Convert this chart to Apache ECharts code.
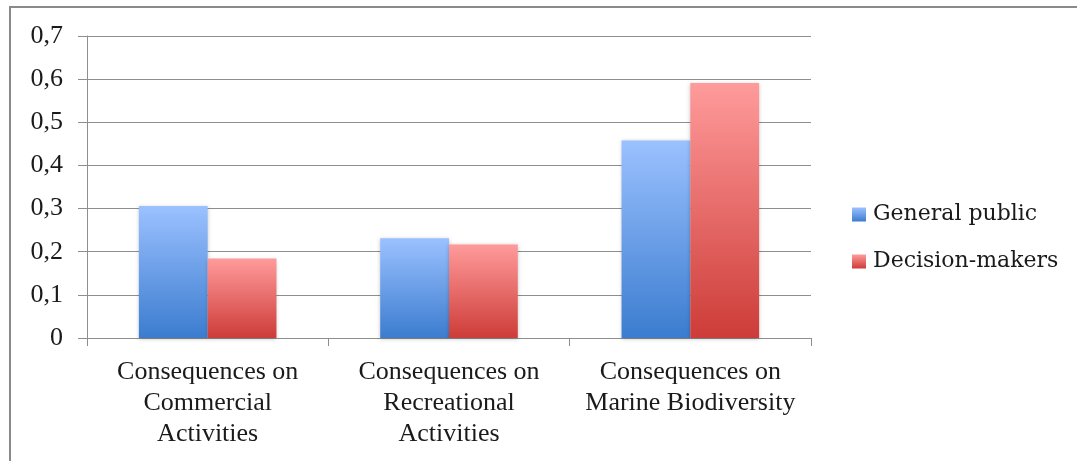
<!DOCTYPE html>
<html>
<head>
<meta charset="utf-8">
<script src="https://cdn.jsdelivr.net/npm/echarts@6/dist/echarts.min.js"></script>
<style>
  html, body { margin: 0; padding: 0; background: #ffffff; }
  #chart { width: 1077px; height: 461px; }
</style>
</head>
<body>
<div id="chart"></div>
<script>
// Categories along the x axis
const categories = [
  'Consequences on\nCommercial\nActivities',
  'Consequences on\nRecreational\nActivities',
  'Consequences on\nMarine Biodiversity'
];

// Share of respondents per group
const generalPublic = [0.306, 0.231, 0.458];
const decisionMakers = [0.184, 0.217, 0.591];

const seriesNames = ['General public', 'Decision-makers'];

// Y axis range
const yMin = 0;
const yMax = 0.7;
const yStep = 0.1;

const serif = '"Liberation Serif", "Times New Roman", serif';
const gridColor = '#8e8e8e';

function vGradient(top, bottom) {
  return new echarts.graphic.LinearGradient(0, 0, 0, 1, [
    { offset: 0, color: top },
    { offset: 1, color: bottom }
  ]);
}

const chart = echarts.init(document.getElementById('chart'), null, { renderer: 'canvas' });

chart.setOption({
  animation: false,
  backgroundColor: '#ffffff',
  grid: { left: 87, right: 266, top: 36, bottom: 123, containLabel: false },
  legend: {
    orient: 'vertical',
    left: 852,
    top: 201,
    padding: 0,
    itemWidth: 14,
    itemHeight: 14,
    itemGap: 20,
    icon: 'rect',
    textStyle: { fontFamily: '"DejaVu Serif", serif', fontSize: 22, color: '#1a1a1a', lineHeight: 27, padding: [0, 0, 0, 2] },
    data: seriesNames
  },
  xAxis: {
    type: 'category',
    data: categories,
    axisLine: { lineStyle: { color: gridColor, width: 1 } },
    axisTick: { show: true, length: 8, lineStyle: { color: gridColor } },
    axisLabel: {
      fontFamily: serif,
      fontSize: 26,
      color: '#1a1a1a',
      lineHeight: 31,
      margin: 19,
      interval: 0
    }
  },
  yAxis: {
    type: 'value',
    min: yMin,
    max: yMax,
    interval: yStep,
    axisLine: { show: true, lineStyle: { color: gridColor, width: 1 } },
    axisTick: { show: true, length: 9, lineStyle: { color: gridColor } },
    splitLine: { lineStyle: { color: gridColor, width: 1 } },
    axisLabel: {
      fontFamily: serif,
      fontSize: 26,
      color: '#1a1a1a',
      margin: 24,
      formatter: v => (v === 0 ? '0' : v.toFixed(1).replace('.', ','))
    }
  },
  series: [
    {
      name: seriesNames[0],
      type: 'bar',
      data: generalPublic,
      barGap: '0%',
      barCategoryGap: '43%',
      itemStyle: {
        color: vGradient('#9bc1ff', '#3b7ccf'),
        shadowBlur: 4,
        shadowColor: 'rgba(0,0,0,0.22)',
        shadowOffsetY: 1
      }
    },
    {
      name: seriesNames[1],
      type: 'bar',
      data: decisionMakers,
      barGap: '0%',
      barCategoryGap: '43%',
      itemStyle: {
        color: vGradient('#ff9b9b', '#cd3c38'),
        shadowBlur: 4,
        shadowColor: 'rgba(0,0,0,0.22)',
        shadowOffsetY: 1
      }
    }
  ],
  graphic: [
    {
      type: 'line',
      silent: true,
      shape: { x1: 9, y1: 7, x2: 1077, y2: 7 },
      style: { stroke: '#8a8a8a', lineWidth: 2 }
    },
    {
      type: 'line',
      silent: true,
      shape: { x1: 10, y1: 6, x2: 10, y2: 461 },
      style: { stroke: '#8a8a8a', lineWidth: 2 }
    }
  ]
});
</script>
</body>
</html>
